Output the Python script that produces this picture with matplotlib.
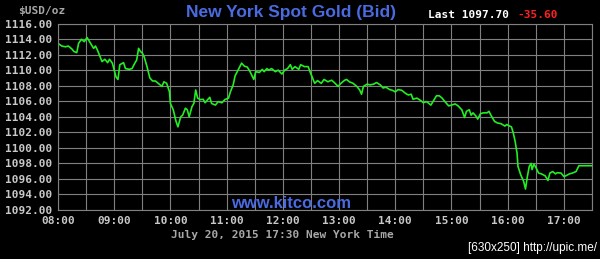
import numpy as np
import matplotlib
matplotlib.use("Agg")
import matplotlib.pyplot as plt

# minutes after 08:00 and spot price
minutes = [0, 4, 8, 11, 15, 17, 20, 22, 25, 28, 31, 33, 35, 38, 40, 42, 45, 47, 50, 53,
           55, 58, 60, 62, 64, 66, 70, 72, 76, 79, 82, 84, 86, 88, 90, 92, 95, 98, 101, 104,
           107, 111, 113, 116, 119, 120, 123, 126, 128, 131, 133, 136, 138, 140, 143, 145, 147, 149, 152, 155,
           157, 159, 162, 164, 168, 171, 175, 178, 182, 184, 187, 189, 193, 196, 199, 202, 205, 209, 211, 215,
           218, 220, 223, 225, 228, 232, 235, 239, 242, 245, 248, 250, 253, 257, 259, 263, 267, 269, 271, 274,
           277, 281, 284, 288, 292, 295, 299, 302, 306, 308, 311, 315, 319, 322, 324, 326, 330, 333, 337, 340,
           344, 347, 350, 354, 357, 360, 363, 367, 371, 374, 377, 379, 383, 387, 390, 393, 395, 398, 401, 404,
           407, 410, 413, 417, 420, 424, 427, 431, 434, 436, 439, 441, 443, 446, 448, 451, 454, 458, 460, 463,
           466, 469, 473, 477, 479, 482, 484, 486, 488, 490, 491, 494, 497, 499, 501, 503, 505, 506, 508, 510,
           513, 516, 520, 523, 525, 528, 531, 533, 537, 540, 542, 546, 549, 553, 556, 559, 570]
prices = [1113.45, 1113.1, 1113.0, 1113.1, 1112.7, 1112.4, 1112.25, 1113.45, 1113.97, 1113.66,
          1114.2, 1113.8, 1113.4, 1112.8, 1113.1, 1112.6, 1111.7, 1111.1, 1111.4, 1110.96,
          1111.4, 1110.9, 1110.0, 1109.1, 1108.8, 1110.7, 1110.96, 1110.2, 1110.1, 1110.2,
          1110.9, 1111.3, 1112.8, 1112.4, 1112.2, 1111.7, 1110.45, 1109.0, 1108.6, 1108.6,
          1108.3, 1107.9, 1108.5, 1108.3, 1107.2, 1105.7, 1104.9, 1103.4, 1102.7, 1104.0,
          1104.2, 1105.1, 1104.9, 1104.0, 1105.3, 1105.7, 1107.45, 1106.4, 1106.2, 1106.25,
          1105.8, 1106.1, 1106.5, 1105.7, 1105.5, 1105.95, 1105.8, 1106.2, 1106.4, 1107.2,
          1108.1, 1109.25, 1110.2, 1110.9, 1110.5, 1110.4, 1109.8, 1108.8, 1109.8, 1109.7,
          1110.1, 1109.8, 1110.2, 1110.0, 1110.2, 1109.8, 1110.0, 1109.5, 1110.0, 1110.2,
          1110.7, 1110.1, 1110.45, 1110.1, 1110.7, 1110.45, 1110.45, 1109.8, 1109.2, 1108.3,
          1108.65, 1108.3, 1108.8, 1108.5, 1108.7, 1108.4, 1107.9, 1108.3, 1108.7, 1108.8,
          1108.5, 1108.3, 1107.9, 1107.45, 1106.9, 1107.9, 1108.2, 1108.1, 1108.2, 1108.4,
          1108.1, 1107.7, 1107.8, 1107.5, 1107.4, 1107.2, 1107.5, 1107.4, 1107.0, 1106.8,
          1106.9, 1106.25, 1106.4, 1106.1, 1105.8, 1105.95, 1105.8, 1105.5, 1106.1, 1106.7,
          1106.7, 1106.4, 1105.95, 1105.4, 1105.5, 1105.65, 1105.4, 1104.9, 1103.9, 1104.7,
          1104.9, 1104.2, 1104.5, 1104.1, 1103.7, 1104.4, 1104.5, 1104.5, 1104.7, 1104.0,
          1103.4, 1103.2, 1103.1, 1102.8, 1103.0, 1102.8, 1102.7, 1101.9, 1100.8, 1099.3,
          1097.6, 1096.5, 1095.7, 1094.7, 1096.3, 1097.6, 1098.0, 1097.2, 1097.9, 1097.5,
          1096.75, 1096.65, 1096.4, 1095.8, 1096.75, 1096.95, 1096.65, 1096.8, 1096.75, 1096.3,
          1096.4, 1096.65, 1096.75, 1096.95, 1097.7, 1097.7, 1097.7]

hour_labels = ["08:00", "09:00", "10:00", "11:00", "12:00", "13:00", "14:00", "15:00", "16:00", "17:00"]
y_ticks = [1092, 1094, 1096, 1098, 1100, 1102, 1104, 1106, 1108, 1110, 1112, 1114, 1116]

last_price = 1097.70
change = -35.60

W, H = 600, 259
fig = plt.figure(figsize=(W / 100, H / 100), dpi=100, facecolor="black")
ax = fig.add_axes([58 / W, 1 - 210 / H, 534 / W, 186.5 / H], facecolor="black")

ax.plot(minutes, prices, color="#22ee22", linewidth=1.2)

ax.set_xlim(0, 570)
ax.set_ylim(1092, 1116)
ax.set_xticks(np.arange(0, 571, 30), minor=True)
ax.set_xticks(np.arange(0, 570, 60))
ax.set_xticklabels(hour_labels)
ax.set_yticks(y_ticks)
ax.set_yticklabels(["%.2f" % v for v in y_ticks])

ax.grid(True, which="both", color="#808080", linewidth=0.8)
ax.tick_params(which="both", length=0, colors="#c8c8c8")
ax.tick_params(axis="y", pad=4.5)
ax.tick_params(axis="x", pad=4.5)
for lab in ax.get_xticklabels() + ax.get_yticklabels():
    lab.set_family("DejaVu Sans Mono")
    lab.set_fontsize(8)
    lab.set_fontweight("bold")
for s in ax.spines.values():
    s.set_color("#808080")
    s.set_linewidth(0.8)

mono = "DejaVu Sans Mono"
fig.text(18 / W, 1 - 11 / H, "$USD/oz", family=mono, fontsize=8, fontweight="bold",
         color="#a8a8a8", va="center", ha="left")
fig.text(291 / W, 1 - 12 / H, "New York Spot Gold (Bid)", family="Liberation Sans",
         fontsize=12.5, fontweight="bold", color="#4a6ae0", va="center", ha="center")
fig.text(428 / W, 1 - 15 / H, "Last %.2f" % last_price, family=mono, fontsize=8,
         fontweight="bold", color="white", va="center", ha="left")
fig.text(517 / W, 1 - 15 / H, "%.2f" % change, family=mono, fontsize=8,
         fontweight="bold", color="#ff2020", va="center", ha="left")
fig.text(291 / W, 1 - 204 / H, "www.kitco.com", family="Liberation Sans", fontsize=12,
         fontweight="bold", color="#4a6ae0", va="center", ha="center")
fig.text(282 / W, 1 - 235 / H, "July 20, 2015 17:30 New York Time", family=mono,
         fontsize=8, fontweight="bold", color="#a8a8a8", va="center", ha="center")
fig.text(597 / W, 1 - 248 / H, "[630x250] http://upic.me/", family="Liberation Sans",
         fontsize=8.5, color="white", va="center", ha="right")

fig.savefig("out.png", dpi=100, facecolor="black")
